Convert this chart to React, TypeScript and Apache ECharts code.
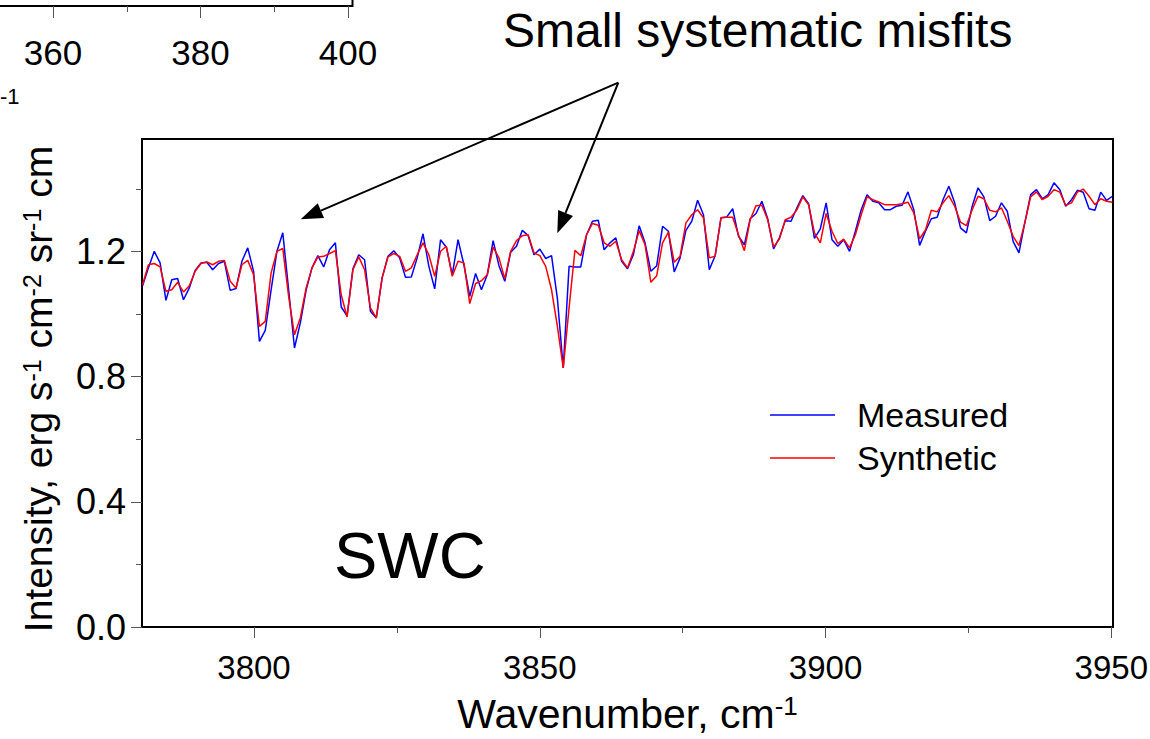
import React, { useEffect, useRef } from "react";
import * as echarts from "echarts";

// Wavenumber grid of the spectrum (cm^-1): first and last sample
const WN_FIRST = 3780.5;
const WN_LAST = 3950.2;

// Measured spectrum (blue)
const measured = [
  1.091, 1.148, 1.201, 1.164, 1.044, 1.110, 1.114, 1.046, 1.084, 1.140,
  1.164, 1.166, 1.142, 1.162, 1.169, 1.076, 1.082, 1.169, 1.212, 1.137,
  0.913, 0.948, 1.078, 1.201, 1.260, 1.078, 0.892, 0.972, 1.078, 1.148,
  1.187, 1.151, 1.206, 1.228, 1.023, 0.995, 1.145, 1.190, 1.174, 1.009,
  0.988, 1.116, 1.185, 1.203, 1.180, 1.118, 1.119, 1.180, 1.257, 1.153,
  1.081, 1.238, 1.214, 1.126, 1.238, 1.158, 1.057, 1.130, 1.078, 1.126,
  1.235, 1.155, 1.105, 1.198, 1.217, 1.268, 1.251, 1.190, 1.208, 1.178,
  1.187, 1.050, 0.828, 1.153, 1.151, 1.151, 1.254, 1.297, 1.300, 1.206,
  1.228, 1.244, 1.169, 1.145, 1.190, 1.283, 1.228, 1.137, 1.155, 1.281,
  1.265, 1.135, 1.180, 1.268, 1.297, 1.364, 1.318, 1.142, 1.187, 1.308,
  1.311, 1.337, 1.249, 1.222, 1.305, 1.322, 1.361, 1.305, 1.209, 1.244,
  1.299, 1.297, 1.340, 1.379, 1.353, 1.242, 1.273, 1.356, 1.238, 1.217,
  1.238, 1.201, 1.265, 1.334, 1.382, 1.361, 1.356, 1.334, 1.334, 1.345,
  1.348, 1.391, 1.334, 1.220, 1.265, 1.305, 1.310, 1.366, 1.409, 1.356,
  1.276, 1.260, 1.345, 1.404, 1.375, 1.299, 1.313, 1.356, 1.329, 1.233,
  1.196, 1.292, 1.382, 1.398, 1.369, 1.382, 1.420, 1.398, 1.345, 1.366,
  1.396, 1.390, 1.337, 1.332, 1.390, 1.364, 1.377,
];

// Synthetic spectrum (red)
const synthetic = [
  1.094, 1.158, 1.162, 1.151, 1.073, 1.078, 1.102, 1.071, 1.091, 1.137,
  1.162, 1.167, 1.158, 1.169, 1.172, 1.105, 1.084, 1.158, 1.172, 1.126,
  0.961, 0.977, 1.132, 1.201, 1.210, 1.057, 0.934, 0.988, 1.084, 1.148,
  1.183, 1.185, 1.194, 1.203, 1.062, 0.991, 1.142, 1.183, 1.142, 1.020,
  0.988, 1.116, 1.183, 1.194, 1.185, 1.137, 1.148, 1.190, 1.228, 1.190,
  1.121, 1.201, 1.217, 1.121, 1.169, 1.164, 1.034, 1.098, 1.107, 1.126,
  1.214, 1.180, 1.113, 1.201, 1.235, 1.251, 1.254, 1.196, 1.187, 1.153,
  1.078, 0.961, 0.828, 1.020, 1.204, 1.187, 1.254, 1.290, 1.284, 1.228,
  1.217, 1.233, 1.174, 1.148, 1.200, 1.267, 1.222, 1.102, 1.123, 1.228,
  1.262, 1.166, 1.185, 1.292, 1.318, 1.334, 1.308, 1.180, 1.185, 1.308,
  1.310, 1.310, 1.254, 1.203, 1.302, 1.347, 1.348, 1.302, 1.215, 1.240,
  1.302, 1.310, 1.334, 1.375, 1.350, 1.260, 1.228, 1.322, 1.265, 1.226,
  1.240, 1.212, 1.254, 1.318, 1.375, 1.366, 1.359, 1.350, 1.350, 1.350,
  1.353, 1.358, 1.324, 1.241, 1.269, 1.332, 1.327, 1.356, 1.379, 1.345,
  1.294, 1.283, 1.334, 1.377, 1.369, 1.332, 1.327, 1.340, 1.297, 1.249,
  1.219, 1.292, 1.375, 1.391, 1.366, 1.377, 1.398, 1.390, 1.348, 1.356,
  1.390, 1.400, 1.377, 1.350, 1.369, 1.361, 1.358,
];

const seriesNames = ["Measured", "Synthetic"];
const xMajorTicks = [3800, 3850, 3900, 3950];
const xMinorTicks = [3825, 3875, 3925];
const yMajorTicks = [0, 0.4, 0.8, 1.2];
const yMinorTicks = [0.2, 0.6, 1.0, 1.4];
// partial neighbouring panel (top-left corner)
const insetMajorTicks = [360, 380, 400];
const insetMinorTicks = [350, 370, 390];

const FONT = "'Liberation Sans', Arial, Helvetica, sans-serif";

function toPairs(values: number[]) {
  const step = (WN_LAST - WN_FIRST) / (values.length - 1);
  return values.map((v, i) => [WN_FIRST + i * step, v]);
}

function arrow(x0: number, y0: number, x1: number, y1: number) {
  const dx = x1 - x0;
  const dy = y1 - y0;
  const len = Math.sqrt(dx * dx + dy * dy);
  const ux = dx / len;
  const uy = dy / len;
  const headL = 22;
  const headW = 8;
  const bx = x1 - ux * headL;
  const by = y1 - uy * headL;
  const px = -uy;
  const py = ux;
  return [
    {
      type: "line",
      shape: { x1: x0, y1: y0, x2: bx, y2: by },
      style: { stroke: "#000", lineWidth: 2 },
      silent: true,
    },
    {
      type: "polygon",
      shape: {
        points: [
          [x1, y1],
          [bx + px * headW, by + py * headW],
          [bx - px * headW, by - py * headW],
        ],
      },
      style: { fill: "#000" },
      silent: true,
    },
  ];
}

export default function App() {
  const ref = useRef<HTMLDivElement>(null);

  useEffect(() => {
    if (!ref.current) return;
    const chart = echarts.init(ref.current, undefined, { renderer: "svg" });

    const tickStyle = { color: "#555", width: 1 };
    const labelBase = { color: "#000", fontFamily: FONT, fontSize: 33 };

    const option: any = {
      animation: false,
      backgroundColor: "#fff",
      title: {
        text: "Small systematic misfits",
        left: 498,
        top: 1,
        textStyle: { fontSize: 48, fontWeight: "normal", color: "#000", fontFamily: FONT },
      },
      legend: {
        orient: "vertical",
        left: 765,
        top: 393,
        data: seriesNames,
        icon: "rect",
        itemWidth: 65,
        itemHeight: 1.5,
        itemGap: 9,
        selectedMode: false,
        textStyle: { fontSize: 34, color: "#000", fontFamily: FONT, padding: [0, 0, 0, 17] },
      },
      grid: [
        {
          left: 142,
          top: 139,
          width: 971,
          height: 488,
          show: true,
          borderColor: "#000",
          borderWidth: 2,
          backgroundColor: "#fff",
          outerBoundsMode: "none",
          containLabel: false,
        },
        {
          left: -94.5,
          top: -60,
          width: 447,
          height: 66,
          show: true,
          borderColor: "#000",
          borderWidth: 2,
          outerBoundsMode: "none",
          containLabel: false,
        },
      ],
      xAxis: [
        {
          gridIndex: 0,
          type: "value",
          position: "bottom",
          min: 3780.4,
          max: 3950.3,
          axisLine: { show: false },
          splitLine: { show: false },
          axisTick: { show: true, customValues: xMajorTicks, length: 11, lineStyle: tickStyle },
          axisLabel: {
            ...labelBase,
            customValues: xMajorTicks,
            margin: 24,
            formatter: (v: number) => String(v),
          },
          name: "{t|Wavenumber, cm}{s|-1}",
          nameLocation: "middle",
          nameGap: 66,
          nameTextStyle: {
            rich: {
              t: { fontSize: 41, fontFamily: FONT, color: "#000" },
              s: { fontSize: 26, fontFamily: FONT, color: "#000", verticalAlign: "top" },
            },
          },
        },
        {
          gridIndex: 0,
          type: "value",
          position: "bottom",
          min: 3780.4,
          max: 3950.3,
          axisLine: { show: false },
          splitLine: { show: false },
          axisTick: { show: true, customValues: xMinorTicks, length: 6, lineStyle: tickStyle },
          axisLabel: { show: false },
        },
        {
          gridIndex: 1,
          type: "value",
          position: "bottom",
          min: 340,
          max: 400.6,
          axisLine: { show: false },
          splitLine: { show: false },
          axisTick: { show: true, customValues: insetMajorTicks, length: 12, lineStyle: tickStyle },
          axisLabel: {
            ...labelBase,
            fontSize: 35,
            customValues: insetMajorTicks,
            margin: 29,
            formatter: (v: number) => String(v),
          },
        },
        {
          gridIndex: 1,
          type: "value",
          position: "bottom",
          min: 340,
          max: 400.6,
          axisLine: { show: false },
          splitLine: { show: false },
          axisTick: { show: true, customValues: insetMinorTicks, length: 6, lineStyle: tickStyle },
          axisLabel: { show: false },
        },
      ],
      yAxis: [
        {
          gridIndex: 0,
          type: "value",
          position: "left",
          min: 0,
          max: 1.56,
          axisLine: { show: false },
          splitLine: { show: false },
          axisTick: { show: true, customValues: yMajorTicks, length: 11, lineStyle: tickStyle },
          axisLabel: {
            ...labelBase,
            fontSize: 36,
            customValues: yMajorTicks,
            margin: 16,
            formatter: (v: number) => v.toFixed(1),
          },
          name: "{t|Intensity, erg s}{s|-1}{t| cm}{s|-2}{t| sr}{s|-1}{t| cm}",
          nameLocation: "middle",
          nameRotate: 90,
          nameGap: 84,
          nameTextStyle: {
            padding: [0, 12, 0, 0],
            rich: {
              t: { fontSize: 39, fontFamily: FONT, color: "#000" },
              s: { fontSize: 25, fontFamily: FONT, color: "#000", verticalAlign: "top" },
            },
          },
        },
        {
          gridIndex: 0,
          type: "value",
          position: "left",
          min: 0,
          max: 1.56,
          axisLine: { show: false },
          splitLine: { show: false },
          axisTick: { show: true, customValues: yMinorTicks, length: 6, lineStyle: tickStyle },
          axisLabel: { show: false },
        },
        {
          gridIndex: 1,
          type: "value",
          min: 0,
          max: 1,
          show: false,
        },
      ],
      series: [
        {
          name: seriesNames[0],
          type: "line",
          xAxisIndex: 0,
          yAxisIndex: 0,
          data: toPairs(measured),
          showSymbol: false,
          symbol: "none",
          lineStyle: { color: "#0000ff", width: 1.5 },
          itemStyle: { color: "#0000ff" },
          z: 2,
        },
        {
          name: seriesNames[1],
          type: "line",
          xAxisIndex: 0,
          yAxisIndex: 0,
          data: toPairs(synthetic),
          showSymbol: false,
          symbol: "none",
          lineStyle: { color: "#ff0000", width: 1.5 },
          itemStyle: { color: "#ff0000" },
          z: 3,
        },
      ],
      graphic: [
        ...arrow(618.3, 82.7, 300.7, 219.3),
        ...arrow(618.3, 82.7, 557.3, 233.3),
        {
          type: "text",
          x: 0,
          y: 85,
          style: { text: "-1", fontSize: 22, fontFamily: FONT, fill: "#000" },
          silent: true,
        },
        {
          type: "text",
          x: 334,
          y: 523,
          style: { text: "SWC", fontSize: 65, fontFamily: FONT, fill: "#000" },
          silent: true,
        },
      ],
    };

    chart.setOption(option);
    return () => {
      chart.dispose();
    };
  }, []);

  return (
    <div
      ref={ref}
      style={{ position: "fixed", left: 0, top: 0, width: 1150, height: 739, background: "#fff" }}
    />
  );
}
